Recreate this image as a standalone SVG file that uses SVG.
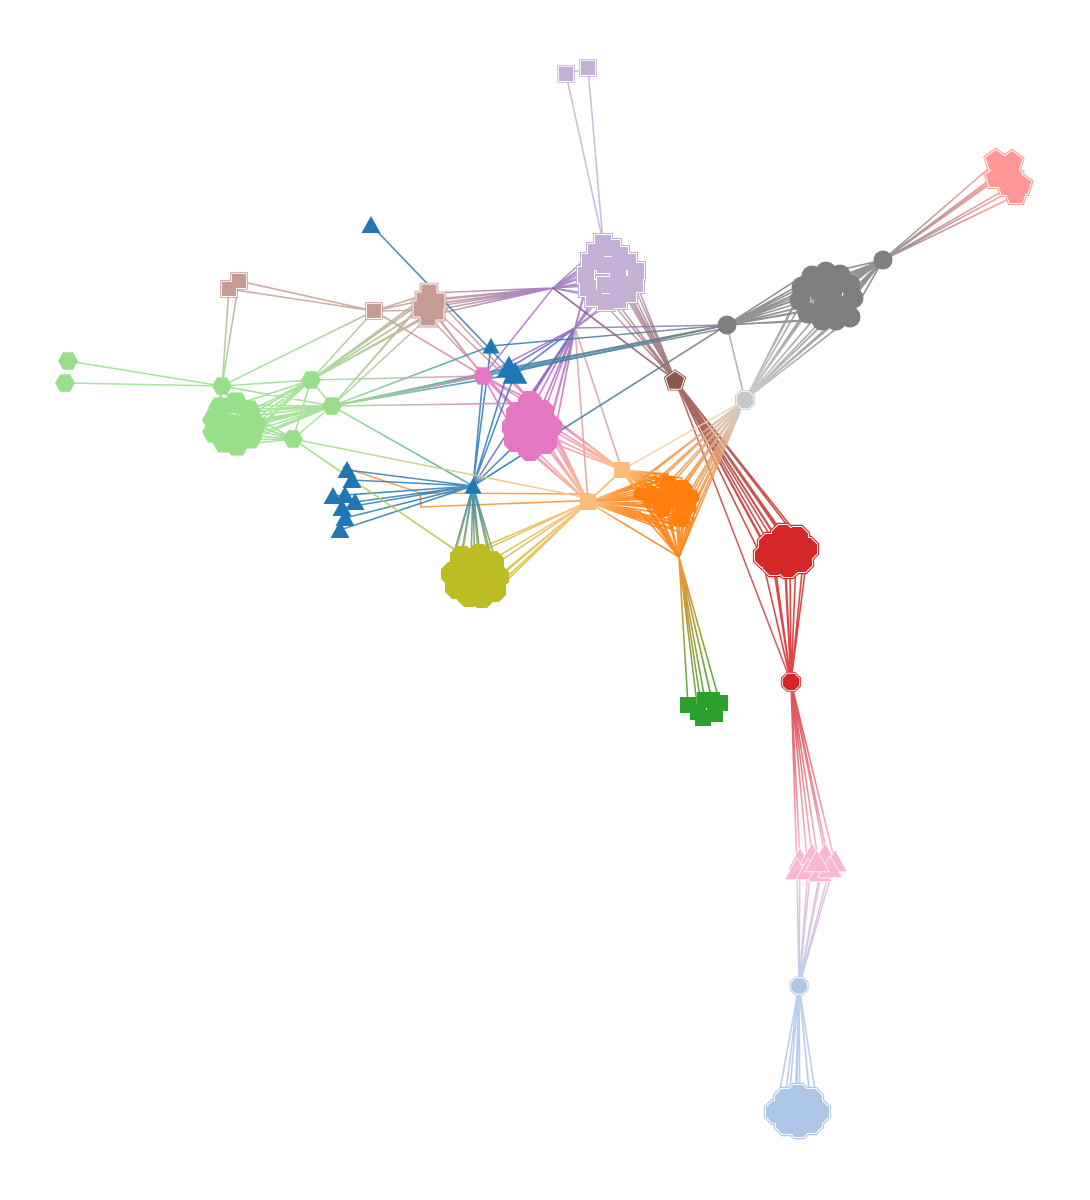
<svg xmlns="http://www.w3.org/2000/svg" xmlns:xlink="http://www.w3.org/1999/xlink" width="1090" height="1200" viewBox="0 0 1090 1200">
<style>
.e{fill:none;stroke-width:1.6;stroke-opacity:.85;stroke-linecap:round}
.pt{stroke:#fff;stroke-width:.06}
</style>
<defs>
<path id="hex" d="M1,0L.5,.866L-.5,.866L-1,0L-.5,-.866L.5,-.866Z"/>
<path id="pent" d="M0,-1L.951,-.309L.588,.809L-.588,.809L-.951,-.309Z"/>
<path id="oct" d="M.924,.383L.383,.924L-.383,.924L-.924,.383L-.924,-.383L-.383,-.924L.383,-.924L.924,-.383Z"/>
<path id="tri" d="M0,-1.1L.95,.6L-.95,.6Z"/>
<path id="sq" d="M-1,-1H1V1H-1Z"/>
<g id="lpPos">
<use id="lp1" href="#sq" transform="translate(566,74) scale(7)"/>
<use id="lp2" href="#sq" transform="translate(588,68) scale(7)"/>
<use id="lp3" href="#sq" transform="translate(603,243) scale(8)"/>
<use id="lp4" href="#sq" transform="translate(612,248) scale(8)"/>
<use id="lp5" href="#sq" transform="translate(620,255) scale(8)"/>
<use id="lp6" href="#sq" transform="translate(628,262) scale(8)"/>
<use id="lp7" href="#sq" transform="translate(596,252) scale(8)"/>
<use id="lp8" href="#sq" transform="translate(590,262) scale(8)"/>
<use id="lp9" href="#sq" transform="translate(586,275) scale(8)"/>
<use id="lp10" href="#sq" transform="translate(588,288) scale(8)"/>
<use id="lp11" href="#sq" transform="translate(594,298) scale(8)"/>
<use id="lp12" href="#sq" transform="translate(606,302) scale(8)"/>
<use id="lp13" href="#sq" transform="translate(618,300) scale(8)"/>
<use id="lp14" href="#sq" transform="translate(628,294) scale(8)"/>
<use id="lp15" href="#sq" transform="translate(635,284) scale(8)"/>
<use id="lp16" href="#sq" transform="translate(636,271) scale(8)"/>
<use id="lp17" href="#sq" transform="translate(605,265) scale(8)"/>
<use id="lp18" href="#sq" transform="translate(618,270) scale(8)"/>
<use id="lp19" href="#sq" transform="translate(605,285) scale(8)"/>
<use id="lp20" href="#sq" transform="translate(620,284) scale(8)"/>
</g>
<g id="tnPos">
<use id="tn1" href="#sq" transform="translate(229,289) scale(7)"/>
<use id="tn2" href="#sq" transform="translate(239,281) scale(7)"/>
<use id="tn3" href="#sq" transform="translate(374,311) scale(7)"/>
<use id="tn4" href="#sq" transform="translate(429,292) scale(7.5)"/>
<use id="tn5" href="#sq" transform="translate(424,300) scale(7.5)"/>
<use id="tn6" href="#sq" transform="translate(437,301) scale(7.5)"/>
<use id="tn7" href="#sq" transform="translate(421,309) scale(7.5)"/>
<use id="tn8" href="#sq" transform="translate(436,312) scale(7.5)"/>
<use id="tn9" href="#sq" transform="translate(428,318) scale(7.5)"/>
<use id="tn10" href="#sq" transform="translate(430,305) scale(7.5)"/>
</g>
<g id="lrPos">
<use id="lr1" href="#pent" transform="translate(996,161) scale(11)"/>
<use id="lr2" href="#pent" transform="translate(1012,162) scale(11)"/>
<use id="lr3" href="#pent" transform="translate(1004,173) scale(11)"/>
<use id="lr4" href="#pent" transform="translate(996,178) scale(11)"/>
<use id="lr5" href="#pent" transform="translate(1021,185) scale(11)"/>
<use id="lr6" href="#pent" transform="translate(1008,186) scale(11)"/>
<use id="lr7" href="#pent" transform="translate(1016,194) scale(11)"/>
<use id="lr8" href="#pent" transform="translate(1012,176) scale(11)"/>
</g>
<g id="rdPos">
<use id="rd1" href="#oct" transform="translate(770,545) scale(12)"/>
<use id="rd2" href="#oct" transform="translate(783,536) scale(12)"/>
<use id="rd3" href="#oct" transform="translate(797,538) scale(12)"/>
<use id="rd4" href="#oct" transform="translate(806,549) scale(12)"/>
<use id="rd5" href="#oct" transform="translate(801,561) scale(12)"/>
<use id="rd6" href="#oct" transform="translate(788,566) scale(12)"/>
<use id="rd7" href="#oct" transform="translate(774,564) scale(12)"/>
<use id="rd8" href="#oct" transform="translate(766,556) scale(12)"/>
<use id="rd9" href="#oct" transform="translate(785,551) scale(12)"/>
</g>
<g id="lbPos">
<use id="lb1" href="#oct" transform="translate(777,1112) scale(12)"/>
<use id="lb2" href="#oct" transform="translate(786,1100) scale(12)"/>
<use id="lb3" href="#oct" transform="translate(798,1096) scale(12)"/>
<use id="lb4" href="#oct" transform="translate(811,1100) scale(12)"/>
<use id="lb5" href="#oct" transform="translate(818,1112) scale(12)"/>
<use id="lb6" href="#oct" transform="translate(811,1122) scale(12)"/>
<use id="lb7" href="#oct" transform="translate(799,1126) scale(12)"/>
<use id="lb8" href="#oct" transform="translate(787,1123) scale(12)"/>
<use id="lb9" href="#oct" transform="translate(797,1110) scale(12)"/>
</g>
<g id="lbHub"><use id="lb0" href="#oct" transform="translate(799,986) scale(8.5)"/></g>
<g id="rdHub"><use id="rd10" href="#oct" transform="translate(791,682) scale(9)"/></g>
<g id="brPos"><use id="br1" href="#pent" transform="translate(675,381) scale(9.5)"/></g>
<g id="lgyPos"><use id="lgy1" href="#oct" transform="translate(745,400) scale(9)"/></g>
<linearGradient id="gLP_P" gradientUnits="userSpaceOnUse" x1="610" y1="272" x2="553" y2="288"><stop offset="0" stop-color="#c5b0d5"/><stop offset="1" stop-color="#9467bd"/></linearGradient>
<linearGradient id="gLP_P2" gradientUnits="userSpaceOnUse" x1="610" y1="280" x2="575" y2="328"><stop offset="0" stop-color="#c5b0d5"/><stop offset="1" stop-color="#9467bd"/></linearGradient>
<linearGradient id="gP_Br" gradientUnits="userSpaceOnUse" x1="553" y1="288" x2="430" y2="303"><stop offset="0" stop-color="#9467bd"/><stop offset="1" stop-color="#c49c94"/></linearGradient>
<linearGradient id="gP_Pk" gradientUnits="userSpaceOnUse" x1="575" y1="328" x2="533" y2="428"><stop offset="0" stop-color="#9467bd"/><stop offset="1" stop-color="#e377c2"/></linearGradient>
<linearGradient id="gLP_B" gradientUnits="userSpaceOnUse" x1="615" y1="280" x2="675" y2="380"><stop offset="0" stop-color="#c5b0d5"/><stop offset="1" stop-color="#8c564b"/></linearGradient>
<linearGradient id="gB_R" gradientUnits="userSpaceOnUse" x1="675" y1="380" x2="785" y2="550"><stop offset="0" stop-color="#8c564b"/><stop offset="1" stop-color="#d62728"/></linearGradient>
<linearGradient id="gGC_LR" gradientUnits="userSpaceOnUse" x1="883" y1="260" x2="1005" y2="178"><stop offset="0" stop-color="#7f7f7f"/><stop offset="1" stop-color="#ff9896"/></linearGradient>
<linearGradient id="gGC_LG" gradientUnits="userSpaceOnUse" x1="828" y1="297" x2="745" y2="400"><stop offset="0" stop-color="#7f7f7f"/><stop offset="1" stop-color="#c7c7c7"/></linearGradient>
<linearGradient id="gLG_O" gradientUnits="userSpaceOnUse" x1="745" y1="400" x2="670" y2="505"><stop offset="0" stop-color="#c7c7c7"/><stop offset="1" stop-color="#ff7f0e"/></linearGradient>
<linearGradient id="gLO_O" gradientUnits="userSpaceOnUse" x1="590" y1="502" x2="625" y2="502"><stop offset="0" stop-color="#ffbb78"/><stop offset="1" stop-color="#ff7f0e"/></linearGradient>
<linearGradient id="gLO2_O" gradientUnits="userSpaceOnUse" x1="622" y1="470" x2="650" y2="485"><stop offset="0" stop-color="#ffbb78"/><stop offset="1" stop-color="#ff7f0e"/></linearGradient>
<linearGradient id="gO_G" gradientUnits="userSpaceOnUse" x1="679" y1="557" x2="705" y2="708"><stop offset="0" stop-color="#ff7f0e"/><stop offset="1" stop-color="#2ca02c"/></linearGradient>
<linearGradient id="gLO_Ol" gradientUnits="userSpaceOnUse" x1="588" y1="502" x2="474" y2="576"><stop offset="0" stop-color="#ffbb78"/><stop offset="1" stop-color="#bcbd22"/></linearGradient>
<linearGradient id="gPk_LO" gradientUnits="userSpaceOnUse" x1="533" y1="428" x2="600" y2="490"><stop offset="0" stop-color="#e377c2"/><stop offset="1" stop-color="#ffbb78"/></linearGradient>
<linearGradient id="gB_Ol" gradientUnits="userSpaceOnUse" x1="473" y1="486" x2="474" y2="576"><stop offset="0" stop-color="#1f77b4"/><stop offset="1" stop-color="#bcbd22"/></linearGradient>
<linearGradient id="gGr_Br" gradientUnits="userSpaceOnUse" x1="311" y1="390" x2="430" y2="303"><stop offset="0" stop-color="#98df8a"/><stop offset="1" stop-color="#c49c94"/></linearGradient>
<linearGradient id="gBr_Pk" gradientUnits="userSpaceOnUse" x1="430" y1="303" x2="520" y2="410"><stop offset="0" stop-color="#c49c94"/><stop offset="1" stop-color="#e377c2"/></linearGradient>
<linearGradient id="gGr_Bl" gradientUnits="userSpaceOnUse" x1="332" y1="406" x2="512" y2="372"><stop offset="0" stop-color="#98df8a"/><stop offset="1" stop-color="#1f77b4"/></linearGradient>
<linearGradient id="gGr_Gy" gradientUnits="userSpaceOnUse" x1="332" y1="406" x2="727" y2="325"><stop offset="0" stop-color="#98df8a"/><stop offset=".5" stop-color="#3a8ab0"/><stop offset="1" stop-color="#7f7f7f"/></linearGradient>
<linearGradient id="gGr_Pk" gradientUnits="userSpaceOnUse" x1="332" y1="400" x2="500" y2="385"><stop offset="0" stop-color="#98df8a"/><stop offset="1" stop-color="#e377c2"/></linearGradient>
<linearGradient id="gBl_Gy" gradientUnits="userSpaceOnUse" x1="490" y1="390" x2="727" y2="325"><stop offset="0" stop-color="#1f77b4"/><stop offset="1" stop-color="#7f7f7f"/></linearGradient>
<linearGradient id="gGr_LO" gradientUnits="userSpaceOnUse" x1="293" y1="439" x2="588" y2="498"><stop offset="0" stop-color="#98df8a"/><stop offset="1" stop-color="#ffbb78"/></linearGradient>
<linearGradient id="gGr_Ol" gradientUnits="userSpaceOnUse" x1="293" y1="439" x2="470" y2="560"><stop offset="0" stop-color="#98df8a"/><stop offset="1" stop-color="#bcbd22"/></linearGradient>
<linearGradient id="gR_PT" gradientUnits="userSpaceOnUse" x1="791" y1="682" x2="815" y2="862"><stop offset="0" stop-color="#d62728"/><stop offset="1" stop-color="#f7b6d2"/></linearGradient>
<linearGradient id="gPT_LB" gradientUnits="userSpaceOnUse" x1="815" y1="862" x2="799" y2="986"><stop offset="0" stop-color="#f7b6d2"/><stop offset="1" stop-color="#aec7e8"/></linearGradient>
<linearGradient id="gGr_Tan" gradientUnits="userSpaceOnUse" x1="222" y1="386" x2="234" y2="285"><stop offset="0" stop-color="#98df8a"/><stop offset="1" stop-color="#c49c94"/></linearGradient>
</defs>
<rect width="1090" height="1200" fill="#fff"/>
<g id="edges">
<path class="e" stroke="#c5b0d5" d="M566,74L603,242M588,68L603,242M566,74L588,68"/>
<path class="e" stroke="url(#gLP_P)" d="M598,256L553,288M590,268L553,288M588,282L553,288M596,295L553,288M605,270L553,288M603,243L553,288M610,300L553,288M604,285L553,288M612,250L553,288M620,260L553,288M630,280L553,288"/>
<path class="e" stroke="url(#gLP_P2)" d="M596,295L575,328M610,300L575,328M588,282L575,328M604,285L575,328M625,292L575,328M590,268L575,328M618,275L575,328M632,285L575,328"/>
<path class="e" stroke="url(#gLP_B)" d="M625,292L675,380M635,280L675,380M630,268L675,380M610,300L675,380M620,287L675,380M618,275L675,380M622,258L675,380M604,285L675,380M596,295L675,380M612,250L675,380M628,300L675,380M615,265L675,380"/>
<path class="e" stroke="url(#gP_Br)" d="M553,288L425,300M553,288L430,293M553,288L436,310M553,288L428,316M553,288L420,306M553,288L438,300M553,288L432,304M553,288L426,308"/>
<path class="e" stroke="#b570c4" d="M553,288L483,376"/>
<path class="e" stroke="#8e5e7e" d="M553,288L675,380"/>
<path class="e" stroke="url(#gP_Pk)" d="M575,328L530,400M575,328L520,412M575,328L540,410M575,328L550,425M575,328L545,440M575,328L530,450M575,328L515,440M575,328L510,425M575,328L533,428M575,328L555,432"/>
<path class="e" stroke="#6a6fc0" d="M575,328L509,368M575,328L515,374M575,328L473,486"/>
<path class="e" stroke="#a070c0" d="M575,328L483,376"/>
<path class="e" stroke="#d4a0a8" d="M575,328L588,502M575,328L622,470"/>
<path class="e" stroke="#8c7ab0" d="M575,328L727,325"/>
<path class="e" stroke="url(#gB_R)" d="M675,380L770,545M675,380L783,535M675,380L797,538M675,380L808,548M675,380L803,562M675,380L790,568M675,380L775,565M675,380L762,558M675,380L785,552M675,380L780,543M675,380L795,555M675,380L768,550"/>
<path class="e" stroke="#c04848" d="M675,380L791,682"/>
<path class="e" stroke="#7f7f7f" d="M727,325L818,275M727,325L832,272M727,325L845,282M727,325L853,295M727,325L850,318M727,325L838,318M727,325L822,320M727,325L808,310M727,325L800,292M727,325L815,298M727,325L830,300M727,325L842,305M727,325L825,288M727,325L812,270M727,325L805,282M883,260L818,275M883,260L832,272M883,260L845,282M883,260L853,295M883,260L850,318M883,260L838,318M883,260L822,320M883,260L808,310M883,260L800,292M883,260L815,298M883,260L830,300M883,260L842,305M883,260L825,288M883,260L727,325"/>
<path class="e" stroke="url(#gGC_LR)" d="M883,260L996,162M883,260L1012,163M883,260L1004,174M883,260L1020,186M883,260L1008,188M883,260L1017,195M883,260L995,178"/>
<path class="e" stroke="url(#gGC_LG)" d="M745,400L818,275M745,400L832,272M745,400L845,282M745,400L853,295M745,400L850,318M745,400L838,318M745,400L822,320M745,400L808,310M745,400L800,292M745,400L815,298M745,400L830,300M745,400L842,305M745,400L825,288M745,400L856,305M745,400L812,272"/>
<path class="e" stroke="#a8a8a8" d="M727,325L745,400"/>
<path class="e" stroke="url(#gLG_O)" d="M745,400L648,488M745,400L660,480M745,400L674,477M745,400L686,484M745,400L693,497M745,400L692,511M745,400L684,523M745,400L672,528M745,400L660,518M745,400L648,505M745,400L662,495M745,400L676,492M745,400L680,508M745,400L668,508M745,400L640,495M745,400L679,557M745,400L630,488M745,400L655,470M745,400L696,510M745,400L690,524"/>
<path class="e" stroke="#f2cfa8" d="M745,400L622,470"/>
<path class="e" stroke="url(#gLO_O)" stroke-width="2" d="M588,502L648,488M588,502L660,480M588,502L674,477M588,502L686,484M588,502L693,497M588,502L692,511M588,502L684,523M588,502L672,528M588,502L660,518M588,502L648,505M588,502L662,495M588,502L676,492M588,502L680,508M588,502L668,508M588,502L640,495M588,502L679,557M588,502L688,490M588,502L690,503M588,502L686,517M588,502L678,526M588,502L666,522M588,502L654,512M588,502L682,480M588,502L668,474M588,502L695,495M588,502L696,508M588,502L694,518M588,502L688,527M588,502L680,532M588,502L656,476M588,502L645,482M588,502L640,512M588,502L652,520M588,502L665,530"/>
<path class="e" stroke="url(#gLO2_O)" stroke-width="2" d="M622,470L648,488M622,470L660,480M622,470L674,477M622,470L686,484M622,470L693,497M622,470L692,511M622,470L684,523M622,470L672,528M622,470L660,518M622,470L648,505M622,470L662,495M622,470L676,492M622,470L680,508M622,470L668,508M622,470L640,495M622,470L679,557M622,470L690,490M622,470L688,505M622,470L695,500M622,470L696,512M622,470L690,524M622,470L682,478M622,470L668,474"/>
<path class="e" stroke="#ffa050" d="M622,470L588,502"/>
<path class="e" stroke="#ff7f0e" d="M648,488L679,557M660,480L679,557M674,477L679,557M686,484L679,557M693,497L679,557M692,511L679,557M684,523L679,557M672,528L679,557M660,518L679,557M648,505L679,557M662,495L679,557M676,492L679,557M680,508L679,557M668,508L679,557M640,495L679,557M640,495L693,497M648,488L692,511M660,480L684,523M674,477L672,528M686,484L660,518M648,505L686,484M640,495L674,477M662,495L692,511M660,480L693,497M648,488L680,508M696,508L679,557M694,518L679,557M688,527L679,557M656,476L679,557M645,482L679,557M640,512L679,557M652,520L679,557M665,530L679,557"/>
<path class="e" stroke="#ff8f2e" d="M343,467L420,493L590,494M420,493L421,507L680,497"/>
<path class="e" stroke="url(#gO_G)" d="M679,557L688,705M679,557L698,712M679,557L703,718M679,557L712,700M679,557L720,703M679,557L715,714M679,557L705,700"/>
<path class="e" stroke="url(#gLO_Ol)" d="M588,502L478,553M588,502L492,560M588,502L500,575M588,502L497,590M588,502L484,598M588,502L470,600M588,502L475,578M588,502L462,556M588,502L490,585M588,502L505,582"/>
<path class="e" stroke="url(#gPk_LO)" d="M530,400L588,502M520,412L588,502M540,410L588,502M550,425L588,502M545,440L588,502M530,450L588,502M515,440L588,502M533,428L588,502M555,432L588,502M510,425L588,502M530,400L622,470M540,410L622,470M550,425L622,470M545,440L622,470M555,432L622,470M533,428L622,470"/>
<path class="e" stroke="#e377c2" d="M483,376L530,400M483,376L520,412M483,376L540,410M483,376L510,425M483,376L533,428"/>
<path class="e" stroke="url(#gBr_Pk)" d="M436,310L530,400M428,316L520,412M438,300L540,410M430,308L483,376M425,300L483,376M374,311L483,376"/>
<path class="e" stroke="url(#gB_Ol)" d="M473,486L462,556M473,486L478,553M473,486L492,560M473,486L500,575M473,486L452,565M473,486L447,577M473,486L455,592M473,486L470,600M473,486L484,598M473,486L475,578M473,486L497,590"/>
<path class="e" stroke="#2a7ab6" d="M473,486L347,470M473,486L352,480M473,486L333,496M473,486L345,495M473,486L355,502M473,486L342,508M473,486L345,518M473,486L340,530M473,486L491,346M473,486L509,368M473,486L515,374M473,486L483,376M473,486L533,428M371,225L512,372"/>
<path class="e" stroke="url(#gBl_Gy)" d="M473,486L727,325M491,346L727,325M512,372L727,325M509,368L727,325"/>
<path class="e" stroke="#98df8a" d="M220,410L311,380M235,405L311,380M248,412L311,380M255,425L311,380M250,437L311,380M238,445L311,380M225,440L311,380M232,425L311,380M220,410L332,406M235,405L332,406M248,412L332,406M255,425L332,406M250,437L332,406M238,445L332,406M225,440L332,406M213,432L332,406M218,420L332,406M232,425L332,406M245,428L332,406M220,410L293,439M235,405L293,439M248,412L293,439M255,425L293,439M238,445L293,439M225,440L293,439M213,432L293,439M232,425L293,439M220,410L222,386M235,405L222,386M213,432L222,386M250,437L222,386M311,380L332,406M311,380L293,439M332,406L293,439M222,386L311,380M222,386L332,406M68,361L222,386M65,383L222,386"/>
<path class="e" stroke="url(#gGr_Br)" d="M311,380L425,300M311,380L430,293M311,380L436,310M311,380L428,316M311,380L438,300M332,406L425,300M332,406L430,293M332,406L436,310M311,380L374,311M222,386L374,311"/>
<path class="e" stroke="url(#gGr_Tan)" d="M229,289L222,386M239,281L222,386"/>
<path class="e" stroke="#c49c94" d="M229,289L374,311M239,281L374,311M374,311L425,300M374,311L430,293M374,311L436,310M229,289L239,281"/>
<path class="e" stroke="url(#gGr_Bl)" d="M332,406L509,368M332,406L515,374M332,406L491,346M332,406L473,486"/>
<path class="e" stroke="url(#gGr_Gy)" d="M332,406L727,325M332,406L727,328"/>
<path class="e" stroke="url(#gGr_Pk)" d="M332,406L483,376M311,380L483,376M332,406L533,403"/>
<path class="e" stroke="url(#gGr_LO)" d="M293,439L588,498"/>
<path class="e" stroke="url(#gGr_Ol)" d="M293,439L470,560"/>
<path class="e" stroke="#d62728" d="M770,545L791,682M783,535L791,682M797,538L791,682M808,548L791,682M803,562L791,682M790,568L791,682M775,565L791,682M762,558L791,682M785,552L791,682"/>
<path class="e" stroke="url(#gR_PT)" d="M791,682L800,860M791,682L812,855M791,682L825,855M791,682L835,862M791,682L808,870M791,682L820,872M791,682L830,868M791,682L797,870"/>
<path class="e" stroke="url(#gPT_LB)" d="M800,860L799,986M812,855L799,986M825,855L799,986M835,862L799,986M808,870L799,986M820,872L799,986M830,868L799,986M797,870L799,986"/>
<path class="e" stroke="#aec7e8" d="M799,986L776,1112M799,986L785,1100M799,986L797,1094M799,986L810,1098M799,986L818,1110M799,986L812,1122M799,986L800,1126M799,986L787,1124M799,986L795,1110"/>
</g>
<g id="lightpurple">
<use href="#lpPos" fill="#c5b0d5" stroke="#c5b0d5" stroke-width=".5"/>
<use href="#lpPos" fill="#fff" stroke="#fff" stroke-width=".25"/>
<use href="#lpPos" fill="#c5b0d5"/>
</g>
<g id="tan">
<use href="#tnPos" fill="#c49c94" stroke="#c49c94" stroke-width=".5"/>
<use href="#tnPos" fill="#fff" stroke="#fff" stroke-width=".25"/>
<use href="#tnPos" fill="#c49c94"/>
</g>
<g id="lightgreen" fill="#98df8a">
<use id="lg1" href="#hex" transform="translate(68,361) scale(10)"/>
<use id="lg2" href="#hex" transform="translate(65,383) scale(10)"/>
<use id="lg3" href="#hex" transform="translate(222,386) scale(10)"/>
<use id="lg4" href="#hex" transform="translate(311,380) scale(10)"/>
<use id="lg5" href="#hex" transform="translate(332,406) scale(10)"/>
<use id="lg6" href="#hex" transform="translate(293,439) scale(10)"/>
<use id="lg7" href="#hex" transform="translate(220,408) scale(12)"/>
<use id="lg8" href="#hex" transform="translate(236,403) scale(12)"/>
<use id="lg9" href="#hex" transform="translate(249,411) scale(12)"/>
<use id="lg10" href="#hex" transform="translate(255,425) scale(12)"/>
<use id="lg11" href="#hex" transform="translate(250,438) scale(12)"/>
<use id="lg12" href="#hex" transform="translate(237,445) scale(12)"/>
<use id="lg13" href="#hex" transform="translate(224,442) scale(12)"/>
<use id="lg14" href="#hex" transform="translate(214,432) scale(12)"/>
<use id="lg15" href="#hex" transform="translate(214,420) scale(12)"/>
<use id="lg16" href="#hex" transform="translate(232,425) scale(12)"/>
<use id="lg17" href="#hex" transform="translate(245,428) scale(12)"/>
</g>
<g id="pink" fill="#e377c2">
<use id="pk0" href="#hex" transform="translate(483,376) scale(10)"/>
<use id="pk1" href="#oct" transform="translate(530,403) scale(13)"/>
<use id="pk2" href="#oct" transform="translate(518,414) scale(13)"/>
<use id="pk3" href="#oct" transform="translate(542,412) scale(13)"/>
<use id="pk4" href="#oct" transform="translate(550,427) scale(13)"/>
<use id="pk5" href="#oct" transform="translate(545,442) scale(13)"/>
<use id="pk6" href="#oct" transform="translate(530,449) scale(13)"/>
<use id="pk7" href="#oct" transform="translate(516,440) scale(13)"/>
<use id="pk8" href="#oct" transform="translate(514,427) scale(13)"/>
<use id="pk9" href="#oct" transform="translate(533,428) scale(13)"/>
</g>
<g id="olive" fill="#bcbd22">
<use id="ol1" href="#oct" transform="translate(462,558) scale(13)"/>
<use id="ol2" href="#oct" transform="translate(479,556) scale(13)"/>
<use id="ol3" href="#oct" transform="translate(492,563) scale(13)"/>
<use id="ol4" href="#oct" transform="translate(497,577) scale(13)"/>
<use id="ol5" href="#oct" transform="translate(494,590) scale(13)"/>
<use id="ol6" href="#oct" transform="translate(482,596) scale(13)"/>
<use id="ol7" href="#oct" transform="translate(469,595) scale(13)"/>
<use id="ol8" href="#oct" transform="translate(457,587) scale(13)"/>
<use id="ol9" href="#oct" transform="translate(453,574) scale(13)"/>
<use id="ol10" href="#oct" transform="translate(475,577) scale(14)"/>
</g>
<g id="blue" fill="#1f77b4">
<use id="bl1" href="#tri" transform="translate(371,227) scale(10)"/>
<use id="bl2" href="#tri" transform="translate(491,348) scale(9)"/>
<use id="bl3" href="#tri" transform="translate(509,370) scale(13)"/>
<use id="bl4" href="#tri" transform="translate(515,376) scale(13)"/>
<use id="bl5" href="#tri" transform="translate(473,488) scale(9)"/>
<use id="bl6" href="#tri" transform="translate(347,472) scale(10)"/>
<use id="bl7" href="#tri" transform="translate(352,482) scale(10)"/>
<use id="bl8" href="#tri" transform="translate(333,498) scale(10)"/>
<use id="bl9" href="#tri" transform="translate(345,497) scale(10)"/>
<use id="bl10" href="#tri" transform="translate(355,504) scale(10)"/>
<use id="bl11" href="#tri" transform="translate(342,510) scale(10)"/>
<use id="bl12" href="#tri" transform="translate(345,520) scale(10)"/>
<use id="bl13" href="#tri" transform="translate(340,532) scale(10)"/>
</g>
<g id="lightorange" fill="#ffbb78">
<use id="lo1" href="#sq" transform="translate(622,470) scale(8)"/>
<use id="lo2" href="#sq" transform="translate(588,502) scale(8)"/>
</g>
<g id="orange" fill="#ff7f0e">
<use id="or1" href="#oct" transform="translate(682,490) scale(11)"/>
<use id="or2" href="#oct" transform="translate(686,505) scale(11)"/>
<use id="or3" href="#oct" transform="translate(672,497) scale(11)"/>
<use id="or4" href="#oct" transform="translate(680,518) scale(10)"/>
<use id="or5" href="#oct" transform="translate(668,484) scale(9)"/>
<use id="or6" href="#oct" transform="translate(662,508) scale(10)"/>
<use id="or7" href="#oct" transform="translate(652,496) scale(9)"/>
<use id="or8" href="#oct" transform="translate(640,494) scale(7)"/>
<use id="or9" href="#oct" transform="translate(692,497) scale(8)"/>
</g>
<g id="green" fill="#2ca02c">
<use id="gr1" href="#sq" transform="translate(688,705) scale(8)"/>
<use id="gr2" href="#sq" transform="translate(698,712) scale(8)"/>
<use id="gr3" href="#sq" transform="translate(703,718) scale(8)"/>
<use id="gr4" href="#sq" transform="translate(712,700) scale(8)"/>
<use id="gr5" href="#sq" transform="translate(720,703) scale(8)"/>
<use id="gr6" href="#sq" transform="translate(715,714) scale(8)"/>
<use id="gr7" href="#sq" transform="translate(705,700) scale(8)"/>
</g>
<g id="brown">
<use href="#brPos" fill="#8c564b" stroke="#8c564b" stroke-width=".4"/>
<use href="#brPos" fill="#fff" stroke="#fff" stroke-width=".2"/>
<use href="#brPos" fill="#8c564b"/>
</g>
<g id="lightgray">
<use href="#lgyPos" fill="#c7c7c7" stroke="#c7c7c7" stroke-width=".4"/>
<use href="#lgyPos" fill="#fff" stroke="#fff" stroke-width=".2"/>
<use href="#lgyPos" fill="#c7c7c7"/>
</g>
<g id="gray" fill="#7f7f7f">
<circle id="gy1" cx="727" cy="325" r="9.5"/>
<circle id="gy2" cx="883" cy="260" r="9.5"/>
<circle id="gy3" cx="812" cy="276" r="10.5"/>
<circle id="gy4" cx="826" cy="272" r="10.5"/>
<circle id="gy5" cx="840" cy="275" r="10.5"/>
<circle id="gy6" cx="850" cy="285" r="10.5"/>
<circle id="gy7" cx="853" cy="298" r="10.5"/>
<circle id="gy8" cx="850" cy="317" r="10.5"/>
<circle id="gy9" cx="836" cy="320" r="10.5"/>
<circle id="gy10" cx="822" cy="320" r="10.5"/>
<circle id="gy11" cx="808" cy="313" r="10.5"/>
<circle id="gy12" cx="800" cy="300" r="10.5"/>
<circle id="gy13" cx="802" cy="287" r="10.5"/>
<circle id="gy14" cx="818" cy="290" r="10.5"/>
<circle id="gy15" cx="832" cy="292" r="10.5"/>
<circle id="gy16" cx="840" cy="306" r="10.5"/>
<circle id="gy17" cx="824" cy="305" r="10.5"/>
</g>
<g id="lightred">
<use href="#lrPos" fill="#ff9896" stroke="#ff9896" stroke-width=".36"/>
<use href="#lrPos" fill="#fff" stroke="#fff" stroke-width=".18"/>
<use href="#lrPos" fill="#ff9896"/>
</g>
<g id="red">
<use href="#rdPos" fill="#d62728" stroke="#d62728" stroke-width=".34"/>
<use href="#rdPos" fill="#fff" stroke="#fff" stroke-width=".17"/>
<use href="#rdPos" fill="#d62728"/>
</g>
<g id="redhub">
<use href="#rdHub" fill="#d62728" stroke="#d62728" stroke-width=".4"/>
<use href="#rdHub" fill="#fff" stroke="#fff" stroke-width=".2"/>
<use href="#rdHub" fill="#d62728"/>
</g>
<g id="lightpink" fill="#f7b6d2">
<use id="lpk1" class="pt" href="#tri" transform="translate(800,862) scale(13)"/>
<use id="lpk2" class="pt" href="#tri" transform="translate(812,857) scale(13)"/>
<use id="lpk3" class="pt" href="#tri" transform="translate(825,857) scale(13)"/>
<use id="lpk4" class="pt" href="#tri" transform="translate(835,864) scale(13)"/>
<use id="lpk5" class="pt" href="#tri" transform="translate(797,872) scale(13)"/>
<use id="lpk6" class="pt" href="#tri" transform="translate(808,872) scale(13)"/>
<use id="lpk7" class="pt" href="#tri" transform="translate(820,874) scale(13)"/>
<use id="lpk8" class="pt" href="#tri" transform="translate(830,870) scale(13)"/>
<use id="lpk9" class="pt" href="#tri" transform="translate(817,864) scale(13)"/>
</g>
<g id="lightbluehub">
<use href="#lbHub" fill="#aec7e8" stroke="#aec7e8" stroke-width=".4"/>
<use href="#lbHub" fill="#fff" stroke="#fff" stroke-width=".2"/>
<use href="#lbHub" fill="#aec7e8"/>
</g>
<g id="lightblue">
<use href="#lbPos" fill="#aec7e8" stroke="#aec7e8" stroke-width=".34"/>
<use href="#lbPos" fill="#fff" stroke="#fff" stroke-width=".17"/>
<use href="#lbPos" fill="#aec7e8"/>
</g>
</svg>
